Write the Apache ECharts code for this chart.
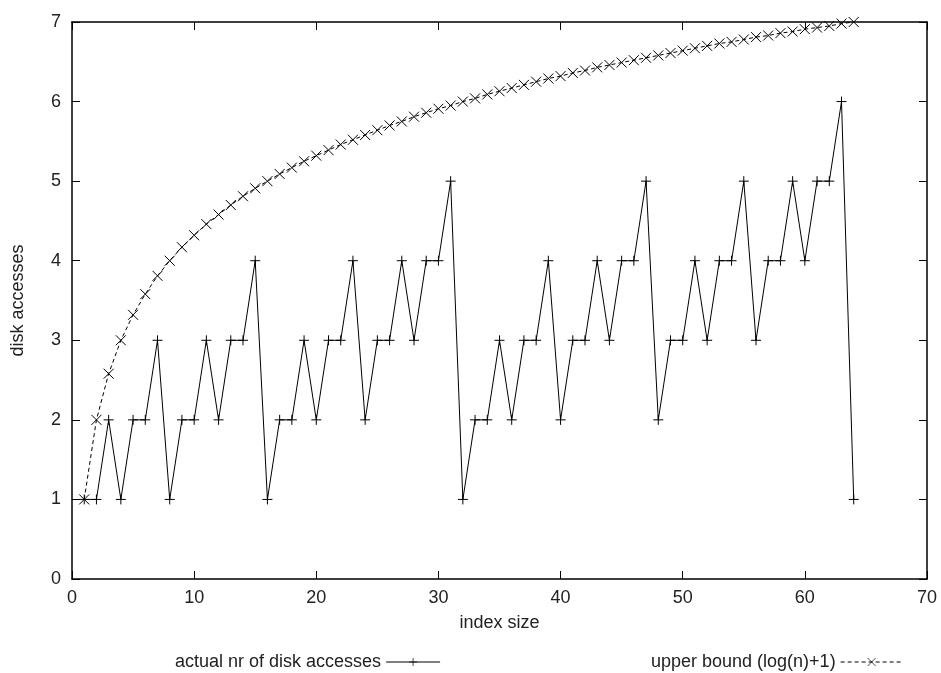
<!DOCTYPE html>
<html>
<head>
<meta charset="utf-8">
<title>disk accesses</title>
<script src="https://cdn.jsdelivr.net/npm/echarts@6/dist/echarts.min.js"></script>
<style>
  html, body { margin: 0; padding: 0; background: #fff; }
  #chart { width: 941px; height: 673px; }
</style>
</head>
<body>
<div id="chart"></div>
<script>
// index size (x)
var indexSizes = [1, 2, 3, 4, 5, 6, 7, 8, 9, 10, 11, 12, 13, 14, 15, 16,
  17, 18, 19, 20, 21, 22, 23, 24, 25, 26, 27, 28, 29, 30, 31, 32,
  33, 34, 35, 36, 37, 38, 39, 40, 41, 42, 43, 44, 45, 46, 47, 48,
  49, 50, 51, 52, 53, 54, 55, 56, 57, 58, 59, 60, 61, 62, 63, 64];
// actual nr of disk accesses
var actualAccesses = [1, 1, 2, 1, 2, 2, 3, 1, 2, 2, 3, 2, 3, 3, 4, 1,
  2, 2, 3, 2, 3, 3, 4, 2, 3, 3, 4, 3, 4, 4, 5, 1,
  2, 2, 3, 2, 3, 3, 4, 2, 3, 3, 4, 3, 4, 4, 5, 2,
  3, 3, 4, 3, 4, 4, 5, 3, 4, 4, 5, 4, 5, 5, 6, 1];
// upper bound (log(n)+1)
var upperBound = [1, 2, 2.58, 3, 3.32, 3.58, 3.81, 4, 4.17, 4.32, 4.46, 4.58, 4.70, 4.81, 4.91, 5,
  5.09, 5.17, 5.25, 5.32, 5.39, 5.46, 5.52, 5.58, 5.64, 5.70, 5.75, 5.81, 5.86, 5.91, 5.95, 6,
  6.04, 6.09, 6.13, 6.17, 6.21, 6.25, 6.29, 6.32, 6.36, 6.39, 6.43, 6.46, 6.49, 6.52, 6.55, 6.58,
  6.61, 6.64, 6.67, 6.70, 6.73, 6.75, 6.78, 6.81, 6.83, 6.86, 6.88, 6.91, 6.93, 6.95, 6.98, 7];

var seriesNames = ['actual nr of disk accesses', 'upper bound (log(n)+1)'];

//组合成 [x, y]
function pairs(xs, ys) {
  var out = [];
  for (var i = 0; i < xs.length; i++) out.push([xs[i], ys[i]]);
  return out;
}

var FONT = '"Liberation Sans", Arial, sans-serif';
var TXT = '#222';
var plusSymbol = 'path://M0,5L10,5M5,0L5,10';
var crossSymbol = 'path://M0,0L10,10M0,10L10,0';

var charts = echarts.init(document.getElementById('chart'));

function mirrorAxis(pos, min, max, interval) {
  return {
    type: 'value', position: pos, min: min, max: max, interval: interval,
    axisLine: { show: true, onZero: false, lineStyle: { color: '#000', width: 1.5 } },
    axisTick: { show: true, inside: true, length: 8, lineStyle: { color: '#000', width: 1 } },
    axisLabel: { show: false },
    splitLine: { show: false }
  };
}

//图例样式
function legendOf(name, left, width) {
  return {
    data: [name], left: left, top: 648, align: 'right',
    itemWidth: width, itemHeight: 10,
    lineStyle: { width: 1 },
    itemStyle: { color: '#000', borderColor: '#000', borderWidth: 0.7 },
    textStyle: { fontFamily: FONT, fontSize: 18, color: TXT }
  };
}

var option = {
  animation: false,
  backgroundColor: '#fff',
  textStyle: { fontFamily: FONT },
  grid: { left: 72, right: 14, top: 22, bottom: 94, containLabel: false },
  legend: [
    legendOf(seriesNames[0], 170, 54),
    legendOf(seriesNames[1], 646, 62)
  ],
  xAxis: [
    {
      type: 'value', min: 0, max: 70, interval: 10,
      name: 'index size', nameLocation: 'middle', nameGap: 35,
      nameTextStyle: { fontFamily: FONT, fontSize: 18, color: TXT },
      axisLine: { show: true, onZero: false, lineStyle: { color: '#000', width: 1.5 } },
      axisTick: { show: true, inside: true, length: 8, lineStyle: { color: '#000', width: 1 } },
      axisLabel: { fontFamily: FONT, fontSize: 18, color: TXT, margin: 10 },
      splitLine: { show: false }
    },
    mirrorAxis('top', 0, 70, 10)
  ],
  yAxis: [
    {
      type: 'value', min: 0, max: 7, interval: 1,
      name: 'disk accesses', nameLocation: 'middle', nameGap: 45,
      nameTextStyle: { fontFamily: FONT, fontSize: 18, color: TXT },
      axisLine: { show: true, onZero: false, lineStyle: { color: '#000', width: 1.5 } },
      axisTick: { show: true, inside: true, length: 8, lineStyle: { color: '#000', width: 1 } },
      axisLabel: { fontFamily: FONT, fontSize: 18, color: TXT, margin: 11 },
      splitLine: { show: false }
    },
    mirrorAxis('right', 0, 7, 1)
  ],
  series: [
    {
      name: seriesNames[0], type: 'line',
      data: pairs(indexSizes, actualAccesses),
      symbol: plusSymbol, symbolSize: 10, showSymbol: true,
      lineStyle: { color: '#000', width: 1 },
      itemStyle: { color: '#000', borderColor: '#000', borderWidth: 1 },
      emphasis: { disabled: true }
    },
    {
      name: seriesNames[1], type: 'line',
      data: pairs(indexSizes, upperBound),
      symbol: crossSymbol, symbolSize: 10, showSymbol: true,
      lineStyle: { color: '#000', width: 1, type: [4, 3] },
      itemStyle: { color: '#000', borderColor: '#000', borderWidth: 1 },
      emphasis: { disabled: true }
    }
  ]
};
charts.setOption(option);
</script>
</body>
</html>
